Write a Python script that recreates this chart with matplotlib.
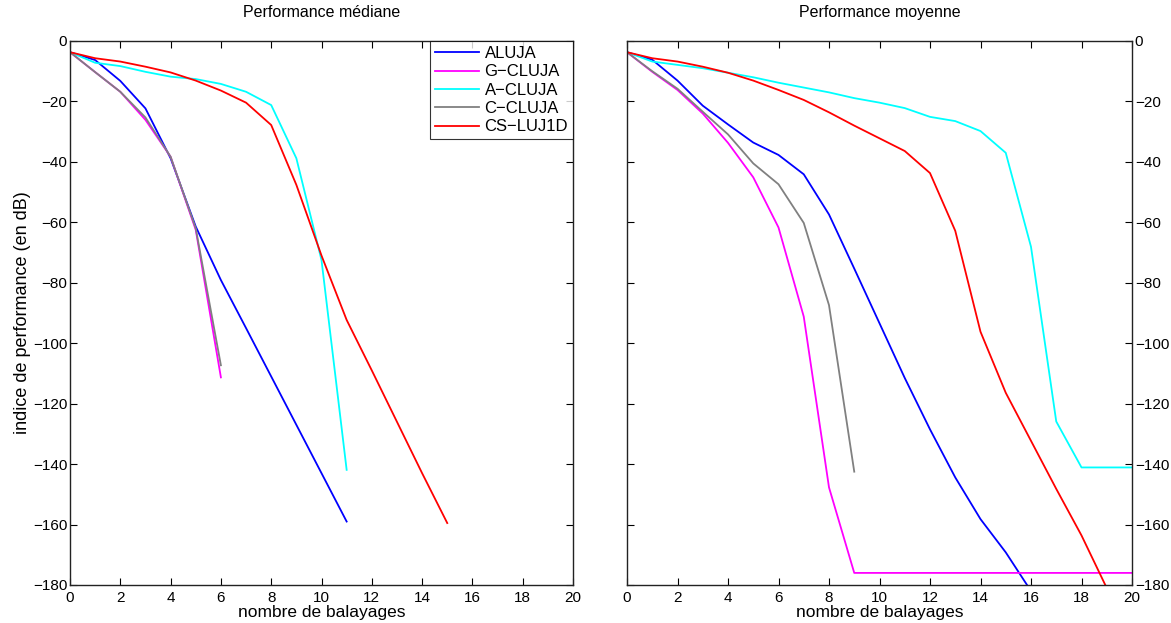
import matplotlib
matplotlib.use("Agg")
import matplotlib.pyplot as plt

plt.rcParams['font.family'] = ['Liberation Sans', 'DejaVu Sans']

# ---- data: median performance (left) ----
x_med_aluja = [0, 1, 2, 3, 4, 5, 6, 7, 8, 9, 10, 11]
med_aluja = [-3.7, -6.3, -13.2, -22.3, -38.8, -61.4, -79.1, -95, -111, -127, -143, -159]
x_med_gcluja = [0, 1, 2, 3, 4, 5, 6]
med_gcluja = [-3.7, -10.3, -16.8, -26.1, -38.3, -62.5, -111.3]
x_med_acluja = [0, 1, 2, 3, 4, 5, 6, 7, 8, 9, 10, 11]
med_acluja = [-3.7, -7.2, -8.3, -10.2, -11.8, -12.6, -14.2, -16.8, -21.2, -38.8, -72.5, -141.9]
x_med_ccluja = [0, 1, 2, 3, 4, 5, 6]
med_ccluja = [-3.7, -10.3, -16.8, -25.3, -38.3, -62.0, -107.3]
x_med_csluj = [0, 1, 2, 3, 4, 5, 6, 7, 8, 9, 10, 11, 12, 13, 14, 15]
med_csluj = [-3.7, -5.7, -6.8, -8.5, -10.4, -13.1, -16.4, -20.4, -27.8, -47.6, -71.0,
             -92.3, -109, -126, -143, -159.5]

# ---- data: mean performance (right) ----
x_moy_aluja = [0, 1, 2, 3, 4, 5, 6, 7, 8, 9, 10, 11, 12, 13, 14, 15, 16]
moy_aluja = [-3.7, -6.2, -13.1, -21.4, -27.6, -33.6, -37.7, -44.1, -57.4, -75.3, -93.4,
             -111.5, -128.5, -144.4, -158.2, -169.2, -182]
x_moy_gcluja = [0, 1, 2, 3, 4, 5, 6, 7, 8, 9, 10, 11, 12, 13, 14, 15, 16, 17, 18, 19, 20]
moy_gcluja = [-3.7, -10.2, -16.2, -24.0, -33.7, -45.1, -61.7, -91.2, -147.7, -176.0,
              -176.0, -176.0, -176.0, -176.0, -176.0, -176.0, -176.0, -176.0, -176.0,
              -176.0, -176.0]
x_moy_acluja = [0, 1, 2, 3, 4, 5, 6, 7, 8, 9, 10, 11, 12, 13, 14, 15, 16, 17, 18, 19, 20]
moy_acluja = [-3.7, -6.8, -7.9, -9.0, -10.5, -12.0, -13.8, -15.4, -17.0, -18.9, -20.4,
              -22.2, -25.1, -26.5, -29.8, -37.0, -68.1, -125.9, -141.1, -141.1, -141.1]
x_moy_ccluja = [0, 1, 2, 3, 4, 5, 6, 7, 8, 9]
moy_ccluja = [-3.7, -10.0, -15.8, -23.4, -30.9, -40.5, -47.4, -60.2, -87.4, -142.5]
x_moy_csluj = [0, 1, 2, 3, 4, 5, 6, 7, 8, 9, 10, 11, 12, 13, 14, 15, 16, 17, 18, 19]
moy_csluj = [-3.7, -5.7, -6.8, -8.5, -10.5, -13.1, -16.2, -19.5, -23.6, -28.0, -32.2,
             -36.4, -43.7, -62.8, -96.2, -116.4, -132.3, -148.2, -163.6, -181]

labels = ['ALUJA', 'G\u2212CLUJA', 'A\u2212CLUJA', 'C\u2212CLUJA', 'CS\u2212LUJ1D']
colors = ['#0000ff', '#ff00ff', '#00ffff', '#808080', '#ff0000']

xticks = list(range(0, 21, 2))
yticks = list(range(-180, 1, 20))

fig = plt.figure(figsize=(11.71, 6.23), dpi=100)
ax1 = fig.add_axes([70 / 1171, 38 / 623, 503 / 1171, 544 / 623])
ax2 = fig.add_axes([627 / 1171, 38 / 623, 505 / 1171, 544 / 623])

left_series = [(x_med_aluja, med_aluja), (x_med_gcluja, med_gcluja),
               (x_med_acluja, med_acluja), (x_med_ccluja, med_ccluja),
               (x_med_csluj, med_csluj)]
right_series = [(x_moy_aluja, moy_aluja), (x_moy_gcluja, moy_gcluja),
                (x_moy_acluja, moy_acluja), (x_moy_ccluja, moy_ccluja),
                (x_moy_csluj, moy_csluj)]

for ax, series in ((ax1, left_series), (ax2, right_series)):
    for (xs, ys), c, lab in zip(series, colors, labels):
        ax.plot(xs, ys, color=c, lw=1.3, label=lab)
    ax.set_xlim(0, 20)
    ax.set_ylim(-180, 0)
    ax.set_xticks(xticks)
    ax.set_yticks(yticks)
    ax.tick_params(direction='in', length=5, width=0.8, labelsize=11,
                   top=True, right=True, colors='black')
    ax.tick_params(axis='y', pad=2)
    ax.tick_params(axis='x', pad=4)
    for s in ax.spines.values():
        s.set_linewidth(1.0)
        s.set_color('#222222')
    ax.set_xlabel('nombre de balayages', fontsize=12.5, labelpad=0)

ax2.yaxis.tick_right()
ax2.tick_params(left=True, right=True, direction='in', length=5)
ax2.yaxis.set_label_position('right')

ax1.set_title('Performance m\u00e9diane', fontsize=11.5, pad=17)
ax2.set_title('Performance moyenne', fontsize=11.5, pad=17)
ax1.set_ylabel('indice de performance (en dB)', fontsize=13, labelpad=1)

leg = ax1.legend(loc='upper right', bbox_to_anchor=(1.0, 1.0), borderaxespad=0,
                 fontsize=12, handlelength=2.6, handletextpad=0.35,
                 labelspacing=0.2, borderpad=0.3, fancybox=False, frameon=True)
leg.get_frame().set_edgecolor('black')
leg.get_frame().set_linewidth(0.8)

fig.savefig('out.png', dpi=100)
